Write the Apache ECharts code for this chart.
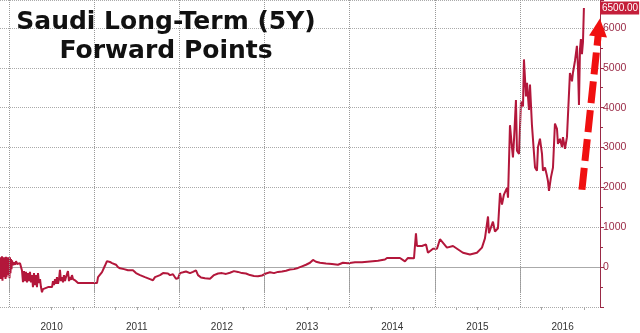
<!DOCTYPE html>
<html>
<head>
<meta charset="utf-8">
<script src="https://cdn.jsdelivr.net/npm/echarts@6/dist/echarts.min.js"></script>
<style>html,body{margin:0;padding:0;background:#fff}#c{width:640px;height:333px}</style>
</head>
<body>
<div id="c"></div>
<script>
// Dates as fractional years, values in forward points
const dates = [
  2009.894,2009.900,2009.906,2009.912,2009.917,2009.923,2009.929,2009.935,2009.941,2009.947,
  2009.953,2009.959,2009.964,2009.970,2009.976,2009.982,2009.988,2009.994,2010.000,2010.006,
  2010.011,2010.017,2010.023,2010.029,2010.035,2010.047,2010.058,2010.070,2010.082,2010.094,
  2010.105,2010.117,2010.129,2010.141,2010.152,2010.164,2010.176,2010.188,2010.199,2010.211,
  2010.223,2010.234,2010.246,2010.258,2010.270,2010.281,2010.293,2010.305,2010.317,2010.328,
  2010.340,2010.352,2010.364,2010.375,2010.387,2010.399,2010.422,2010.458,2010.481,2010.505,
  2010.516,2010.528,2010.540,2010.551,2010.563,2010.575,2010.587,2010.598,2010.610,2010.622,
  2010.634,2010.645,2010.657,2010.669,2010.681,2010.692,2010.704,2010.716,2010.728,2010.739,
  2010.751,2010.763,2010.775,2010.786,2010.798,2010.810,2011.033,2011.045,2011.068,2011.092,
  2011.115,2011.127,2011.150,2011.162,2011.185,2011.209,2011.232,
  2011.256,2011.279,2011.303,2011.326,2011.350,2011.373,2011.397,2011.420,2011.455,2011.491,
  2011.538,2011.596,2011.655,2011.690,2011.714,2011.737,2011.773,2011.808,2011.831,2011.866,
  2011.890,2011.925,2011.960,2011.984,2012.007,2012.043,2012.078,2012.125,2012.160,2012.195,
  2012.219,2012.254,2012.301,2012.360,2012.407,2012.454,2012.501,2012.548,2012.594,2012.641,
  2012.688,2012.735,2012.782,2012.829,2012.876,2012.923,2012.970,2013.017,2013.064,2013.111,
  2013.158,2013.205,2013.252,2013.299,2013.346,2013.393,2013.440,2013.487,2013.534,2013.569,
  2013.604,2013.651,2013.722,2013.792,2013.862,2013.921,2013.980,2014.062,2014.144,2014.238,
  2014.332,2014.414,2014.438,2014.590,2014.649,2014.684,2014.755,2014.766,2014.778,2014.790,
  2014.849,2014.896,2014.919,2014.978,2015.025,2015.060,2015.142,2015.213,2015.330,2015.412,
  2015.494,2015.553,2015.588,2015.624,2015.635,2015.682,2015.706,2015.741,2015.765,2015.788,
  2015.811,2015.847,2015.859,2015.882,2015.905,2015.917,2015.929,2015.952,2015.964,2015.988,
  2016.011,2016.035,2016.046,2016.070,2016.082,2016.105,2016.117,2016.140,2016.152,2016.176,
  2016.199,2016.211,2016.234,2016.258,2016.269,2016.293,2016.316,2016.328,2016.340,2016.363,
  2016.387,2016.410,2016.434,2016.445,2016.469,2016.492,2016.504,2016.528,2016.551,2016.586,
  2016.610,2016.621,2016.645,2016.668,2016.680,2016.692,2016.704,2016.715,2016.727,2016.739,
  2016.750
];
const values = [
  150,-300,250,-200,270,-340,100,-250,250,-150,
  200,-300,260,-250,150,-200,250,-100,200,-280,
  250,-150,200,-50,170,50,120,60,150,80,
  110,70,100,80,-85,-380,-100,-350,-120,-380,
  -150,-350,-120,-380,-200,-500,-150,-450,-200,-500,
  -150,-400,-300,-500,-630,-550,-500,-500,-480,-500,
  -350,-450,-300,-420,-250,-420,-300,-70,-350,-250,
  -380,-200,-350,-250,-300,-100,-350,-250,-320,-200,
  -300,-250,-330,-280,-300,-400,-400,-250,-250,-125,
  -100,40,150,160,130,100,50,
  60,0,-30,20,-50,-20,-80,-50,-80,-150,
  -200,-250,-300,-330,-250,-300,-200,-150,-200,-160,
  -200,-180,-290,-280,-150,-130,-110,-150,-120,-80,
  -200,-260,-280,-290,-200,-160,-150,-170,-140,-100,
  -120,-150,-160,-200,-220,-230,-210,-160,-130,-150,
  -120,-110,-90,-60,-50,-20,20,60,110,180,
  135,110,90,80,60,110,100,120,120,140,
  160,190,230,230,145,230,220,200,850,530,
  530,570,360,460,460,700,490,530,360,316,
  360,490,720,1270,850,1140,890,975,1860,1570,
  1820,1990,1740,3560,3010,2750,3180,4190,2920,2840,
  4150,4030,5210,4280,4620,3940,4580,3560,3600,2500,
  2420,3010,3220,2840,2420,2500,2290,2160,1910,2250,
  2500,3600,3470,3090,3220,3010,3260,2970,3260,4870,
  4660,4870,5170,5550,5040,4070,5470,5720,5340,5640,
  6500
];
const yearTicks = [2010, 2011, 2012, 2013, 2014, 2015, 2016];
const yearLabelPos = [2010.5, 2011.5, 2012.5, 2013.5, 2014.5, 2015.5, 2016.5];
const quarterTicks = [];
for (let y = 2010; y <= 2016; y++) { quarterTicks.push(y + 0.25, y + 0.5, y + 0.75); }
const lastValue = 6500;
const arrowFrom = [2016.727, 1941];
const arrowTo = [2016.927, 6010];

const xMin = 2009.894, xMax = 2016.939;
const lineColor = '#b3173b';
const axisColor = '#9a2a46';
const seriesData = dates.map((d, i) => [d, values[i]]);
const labelFont = 'Liberation Sans, Arial, sans-serif';

const chart = echarts.init(document.getElementById('c'), null, {renderer: 'canvas'});
chart.setOption({
  animation: false,
  backgroundColor: '#fff',
  title: {
    text: 'Saudi Long-Term (5Y)\nForward Points',
    left: 166, top: 8, textAlign: 'center', padding: 0,
    textStyle: {fontFamily: 'DejaVu Sans', fontWeight: 'bold', fontSize: 25, lineHeight: 29, color: '#111'}
  },
  grid: {left: 0, right: 40, top: 0, bottom: 26, containLabel: false},
  xAxis: [{
    type: 'value', min: xMin, max: xMax,
    axisLine: {show: true, lineStyle: {color: '#aaa'}},
    axisTick: {show: true, customValues: yearTicks, length: 26, lineStyle: {color: '#aaa'}},
    axisLabel: {customValues: yearLabelPos, formatter: v => String(Math.floor(v)), color: '#333',
      fontFamily: labelFont, fontSize: 10, margin: 15},
    splitLine: {show: false}
  }, {
    type: 'value', min: xMin, max: xMax, position: 'bottom',
    axisLine: {show: false},
    axisTick: {show: true, customValues: quarterTicks, length: 3, lineStyle: {color: '#aaa'}},
    axisLabel: {show: false},
    splitLine: {show: false}
  }],
  yAxis: {
    type: 'value', position: 'right', min: -1000, max: 6700, interval: 1000,
    axisLine: {show: true, lineStyle: {color: axisColor}},
    axisTick: {show: true, length: 4, lineStyle: {color: axisColor}},
    minorTick: {show: true, splitNumber: 2, length: 3, lineStyle: {color: axisColor}},
    axisLabel: {color: axisColor, fontFamily: labelFont, fontSize: 10.5, margin: 3,
      formatter: v => (v < 0 || v > 6000) ? '' : String(v)},
    splitLine: {show: true, lineStyle: {type: 'dotted', color: '#aaa'}}
  },
  series: [{
    type: 'line', data: [], z: 1,
    markLine: {
      silent: true, symbol: 'none', label: {show: false},
      lineStyle: {type: 'dotted', color: '#999', width: 1},
      data: yearTicks.map(y => ({xAxis: y}))
    }
  }, {
    type: 'line', data: seriesData, showSymbol: false, symbol: 'none',
    lineStyle: {color: lineColor, width: 2}, z: 3,
    markLine: {
      silent: true, symbol: 'none', lineStyle: {color: 'rgba(0,0,0,0)', width: 0},
      label: {position: 'end', formatter: lastValue.toFixed(2), backgroundColor: '#c41e3a', color: '#fff',
        padding: [1, 1, 1, 2], lineHeight: 11, fontSize: 10, distance: 0, fontFamily: labelFont},
      data: [{yAxis: lastValue}]
    }
  }, {
    type: 'line', data: [], z: 5,
    markLine: {
      silent: true, symbol: ['none', 'triangle'], symbolSize: [18, 18],
      lineStyle: {color: '#f01010', width: 7, type: [22, 7], cap: 'butt', opacity: 1},
      itemStyle: {color: '#f01010'},
      label: {show: false},
      data: [[{coord: arrowFrom}, {coord: arrowTo}]]
    }
  }]
});
</script>
</body>
</html>
